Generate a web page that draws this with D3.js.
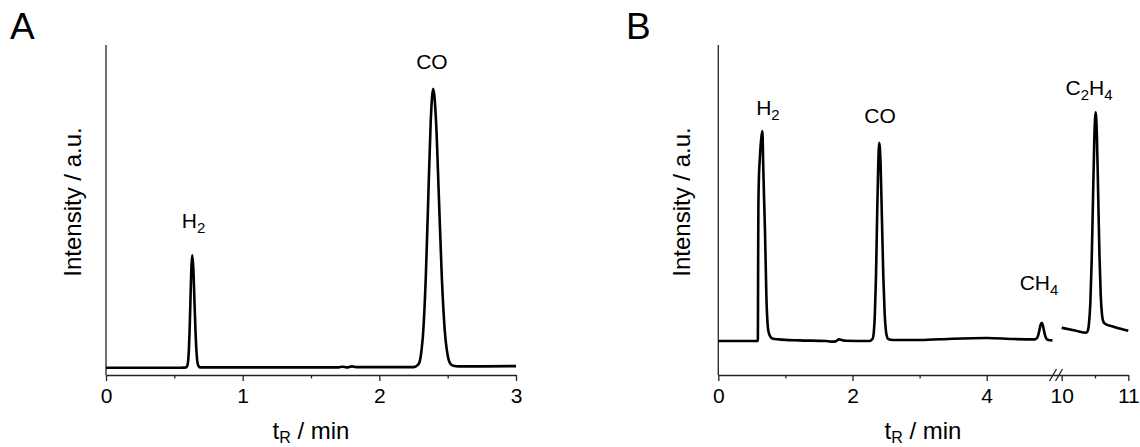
<!DOCTYPE html>
<html>
<head>
<meta charset="utf-8">
<script src="https://cdn.jsdelivr.net/npm/d3@7"></script>
<style>
  body { margin: 0; background: #fff; }
  svg { display: block; font-family: Arial, "Liberation Sans", sans-serif; }
</style>
</head>
<body>
<div id="chart"></div>
<script>

// panel A chromatogram
const aTime = [0, 0.3, 0.55, 0.585, 0.592, 0.5985, 0.605, 0.6115, 0.618, 0.6245, 0.631, 0.639, 0.647, 0.655, 0.663, 0.671, 0.679, 0.69, 0.72, 1.0, 1.5, 1.7, 1.73, 1.76, 1.80, 1.83, 2.0, 2.25, 2.286, 2.304, 2.322, 2.340, 2.358, 2.376, 2.394, 2.415, 2.436, 2.457, 2.478, 2.499, 2.520, 2.541, 2.58, 2.7, 3.0];
const aSignal = [2.2, 2.2, 2.2, 2.3, 2.6, 3.4, 6.6, 13.1, 22.8, 32.3, 36.3, 32.3, 22.8, 13.1, 6.6, 3.4, 2.6, 2.3, 2.3, 2.3, 2.3, 2.3, 2.5, 2.3, 2.6, 2.4, 2.4, 2.4, 3.2, 6.0, 13.7, 29.7, 53.5, 76.8, 86.7, 76.8, 53.6, 29.8, 13.9, 6.2, 3.4, 2.8, 2.6, 2.6, 2.7];

// panel B, part before the axis break (0-5 min)
const bTime1 = [0, 0.3, 0.585, 0.590, 0.593, 0.597, 0.603, 0.620, 0.642, 0.657, 0.670, 0.683, 0.696, 0.707, 0.717, 0.730, 0.749, 0.78, 0.814, 0.9, 1.2, 1.6, 1.68, 1.75, 1.8, 1.84, 1.9, 2.25, 2.300, 2.317, 2.333, 2.350, 2.366, 2.383, 2.399, 2.419, 2.439, 2.459, 2.479, 2.499, 2.519, 2.54, 2.6, 3.0, 3.5, 4.0, 4.4, 4.72, 4.75, 4.77, 4.79, 4.805, 4.82, 4.835, 4.85, 4.87, 4.89, 4.92, 4.98];
const bSignal1 = [10.3, 10.3, 10.3, 11, 30, 50, 58, 66, 72, 73.9, 63.1, 53, 43.4, 33, 23.5, 17, 13, 11.5, 11.0, 10.8, 10.5, 10.3, 10.1, 10.2, 10.8, 10.6, 10.4, 10.3, 11.0, 12.9, 18.4, 29.8, 46.8, 63.3, 70.4, 63.6, 47.0, 30.1, 18.7, 13.2, 11.3, 10.8, 10.6, 10.6, 11.0, 11.2, 10.9, 10.8, 11.2, 12.2, 14.0, 15.3, 15.8, 15.2, 13.8, 12.0, 11.0, 10.6, 10.5];

// panel B, part after the axis break (10-11 min)
const bTime2 = [10.0, 10.2, 10.37, 10.39, 10.41, 10.43, 10.45, 10.47, 10.49, 10.51, 10.529, 10.548, 10.567, 10.586, 10.605, 10.624, 10.645, 10.8, 11.0];
const bSignal2 = [14.3, 13.5, 12.8, 13.3, 15.7, 21.8, 34.5, 53.3, 71.7, 79.6, 72.1, 54.4, 36.3, 24.2, 18.3, 16.2, 15.6, 14.5, 13.4];

// ticks
const aMajor = [0, 1, 2, 3];
const aMinor = [0.5, 1.5, 2.5];
const bMajor = [0, 2, 4, 10, 11];
const bMinor = [1, 3, 10.5];

// peak labels: [main, subscript, tail, time, intensity]
const aLabels = [["H", "2", "", 0.64, 44.5], ["CO", "", "", 2.385, 92.7]];
const bLabels = [["H", "2", "", 0.74, 78.8], ["CO", "", "", 2.41, 76.4], ["CH", "4", "", 4.78, 25.8], ["C", "2", "H4", 10.41, 84.8]];

const W = 1140, H = 447;
const plotTop = 45, plotBottom = 375;

const svg = d3.select("#chart").append("svg")
  .attr("width", W)
  .attr("height", H);

const y = d3.scaleLinear().domain([0, 100]).range([plotBottom, plotTop]);

function drawPanel(x, axisX, series, major, minor, labels, letter, letterX, titleX, yTitleX) {
  const g = svg.append("g");

  // y axis, plain line
  g.append("line")
    .attr("x1", axisX).attr("x2", axisX)
    .attr("y1", plotTop).attr("y2", plotBottom)
    .attr("stroke", "#222").attr("stroke-width", 1.3);

  const xAxis = d3.axisBottom(x).tickValues(major).tickSize(6).tickSizeOuter(0).tickFormat(d3.format("d"));
  const ax = g.append("g")
    .attr("transform", "translate(0," + plotBottom + ")")
    .call(xAxis);
  ax.select(".domain").attr("stroke", "#222").attr("stroke-width", 1.3);
  ax.selectAll(".tick line").attr("stroke", "#222").attr("stroke-width", 1.3);
  ax.selectAll(".tick text")
    .attr("y", 13)
    .attr("dy", "0.71em")
    .style("font-size", "21px")
    .style("font-family", "Arial, 'Liberation Sans', sans-serif")
    .attr("fill", "#000");

  const mAxis = d3.axisBottom(x).tickValues(minor).tickSize(3.5).tickFormat("");
  const mx = g.append("g")
    .attr("transform", "translate(0," + plotBottom + ")")
    .call(mAxis);
  mx.select(".domain").remove();
  mx.selectAll(".tick line").attr("stroke", "#222").attr("stroke-width", 1.3);

  const line = d3.line()
    .x(d => x(d[0]))
    .y(d => y(d[1]))
    .curve(d3.curveMonotoneX);

  series.forEach(s => {
    g.append("path")
      .datum(d3.zip(s[0], s[1]))
      .attr("d", line)
      .attr("fill", "none")
      .attr("stroke", "#000")
      .attr("stroke-width", 2.6)
      .attr("stroke-linejoin", "round");
  });

  labels.forEach(l => {
    const t = g.append("text")
      .attr("x", x(l[3]))
      .attr("y", y(l[4]))
      .attr("text-anchor", "middle")
      .style("font-size", "21px");
    t.append("tspan").text(l[0]);
    t.append("tspan").attr("dy", 5).style("font-size", "15px").text(l[1]);
    if (l[2]) {
      t.append("tspan").attr("dy", -5).text(l[2][0]);
      t.append("tspan").attr("dy", 5).style("font-size", "15px").text(l[2].slice(1));
    }
  });

  // panel letter
  g.append("text")
    .attr("x", letterX).attr("y", 39)
    .style("font-size", "37px")
    .text(letter);

  // x title
  const xt = g.append("text")
    .attr("x", titleX).attr("y", 439)
    .attr("text-anchor", "middle")
    .style("font-size", "24px");
  xt.append("tspan").text("t");
  xt.append("tspan").attr("dy", 4).style("font-size", "16px").text("R");
  xt.append("tspan").attr("dy", -4).text(" / min");

  // y title
  g.append("text")
    .attr("transform", "translate(" + yTitleX + "," + 202 + ") rotate(-90)")
    .attr("text-anchor", "middle")
    .style("font-size", "24px")
    .text("Intensity / a.u.");

  return g;
}

const xA = d3.scaleLinear().domain([0, 3]).range([106, 516]);
drawPanel(xA, 106, [[aTime, aSignal]], aMajor, aMinor, aLabels, "A", 10, 311, 81);

const xB = d3.scaleLinear().domain([0, 5, 10, 11]).range([718.3, 1053.8, 1061.7, 1128.3]);
const gB = drawPanel(xB, 718.3, [[bTime1, bSignal1], [bTime2, bSignal2]], bMajor, bMinor, bLabels, "B", 626, 923, 690);

// axis break marks
[1052.5, 1058.5].forEach(bx => {
  gB.append("line")
    .attr("x1", bx - 3).attr("x2", bx + 4)
    .attr("y1", plotBottom + 6).attr("y2", plotBottom - 6)
    .attr("stroke", "#222").attr("stroke-width", 1.3);
});

</script>
</body>
</html>
